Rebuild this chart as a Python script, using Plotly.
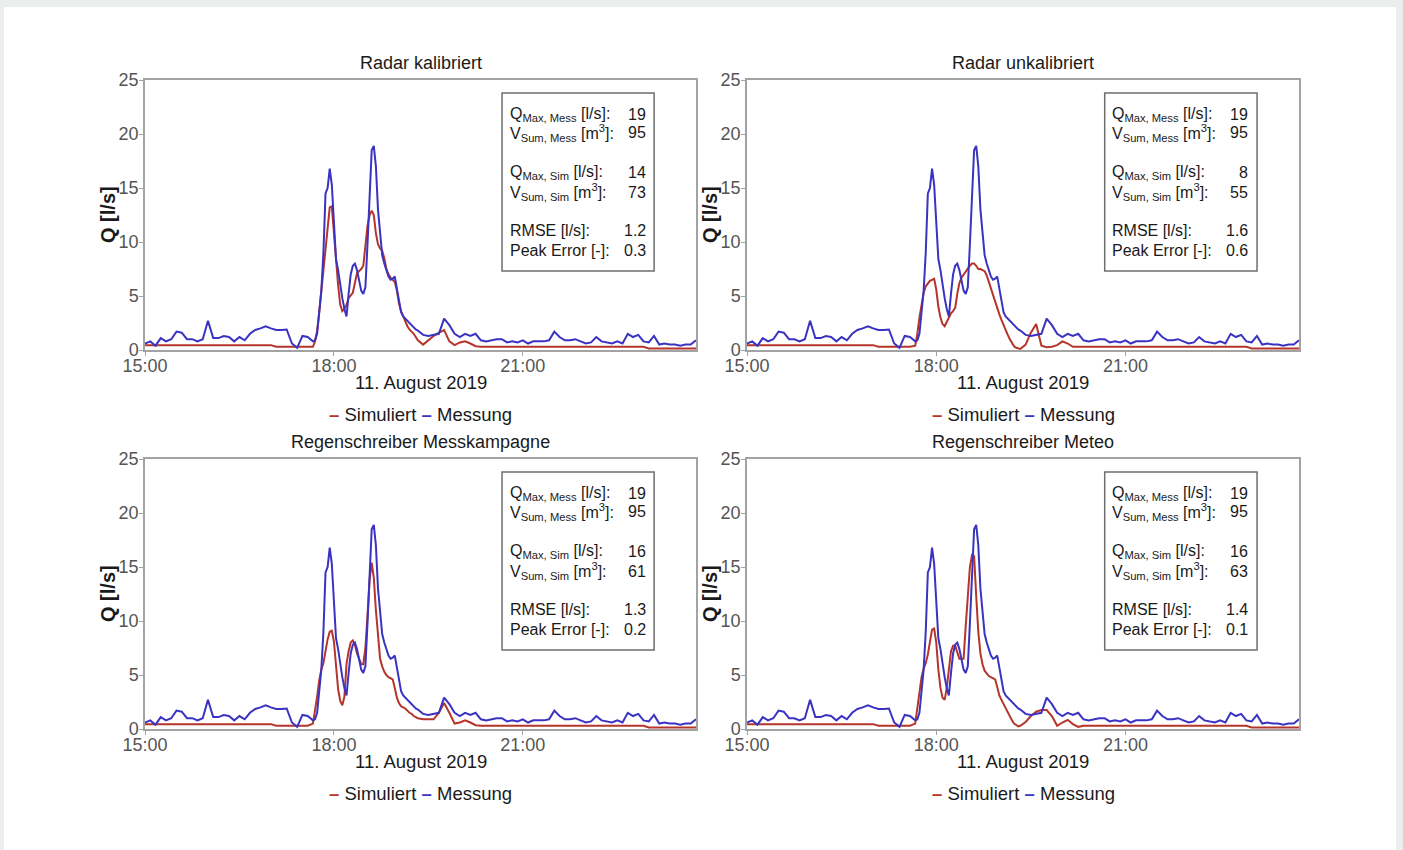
import pandas as pd
import plotly.graph_objects as go

# ---------------- data ----------------
panel_titles = ["Radar kalibriert", "Radar unkalibriert",
                "Regenschreiber Messkampagne", "Regenschreiber Meteo"]

# time axis: 5-min steps before/after the event, 2-min steps during the event
time_a = pd.date_range("2019-08-11 15:00", "2019-08-11 17:35", freq="5min")
time_b = pd.date_range("2019-08-11 17:40", "2019-08-11 19:20", freq="2min")
time_c = pd.date_range("2019-08-11 19:25", "2019-08-11 23:45", freq="5min")
times = list(time_a) + list(time_b) + list(time_c)

messung_a = [0.6, 0.8, 0.4, 1.1, 0.8, 1.0, 1.7, 1.6, 1.0, 1.0, 0.8, 1.0, 2.7, 1.1, 1.1, 1.3,
             1.2, 0.8, 1.2, 0.9, 1.5, 1.85, 2.0, 2.2, 2.0, 1.85, 1.85, 1.9, 0.6, 0.2, 1.3, 1.2]
messung_b = [0.8, 0.9, 1.5, 3.7, 5.5, 9.0, 14.5, 15.0, 16.8, 15.3, 11.2, 8.4, 7.4, 6.0, 4.8,
             3.8, 3.1, 5.2, 7.0, 7.8, 8.0, 7.4, 6.3, 5.5, 5.2, 5.8, 9.8, 14.5, 18.5, 18.9, 17.0,
             13.0, 10.5, 8.8, 8.0, 7.3, 6.8, 6.5, 6.6, 6.8, 5.7, 4.3, 3.5, 3.1, 2.9, 2.7, 2.5,
             2.3, 2.1, 1.9, 1.8]
messung_c = [1.4, 1.3, 1.4, 1.5, 2.9, 2.3, 1.5, 1.2, 1.5, 1.3, 1.5, 0.9, 0.8, 0.9, 1.0, 1.0,
             0.7, 0.8, 0.7, 0.9, 0.6, 0.8, 0.8, 0.8, 0.9, 1.7, 1.2, 0.9, 0.9, 1.0, 0.8, 0.6,
             0.7, 1.2, 0.8, 0.7, 0.6, 0.8, 0.6, 1.5, 1.2, 1.4, 0.8, 0.7, 1.3, 0.5, 0.6, 0.5,
             0.5, 0.4, 0.5, 0.5, 0.9]
messung = messung_a + messung_b + messung_c

sim_before = [0.45, 0.45, 0.45, 0.45, 0.45, 0.45, 0.45, 0.45, 0.45, 0.45, 0.45, 0.45, 0.45,
              0.45, 0.45, 0.45, 0.45, 0.45, 0.45, 0.45, 0.45, 0.45, 0.45, 0.45, 0.45,
              0.3, 0.3, 0.3, 0.3, 0.3, 0.3, 0.3]
sim_after = [0.3, 0.3, 0.3, 0.3, 0.3, 0.3, 0.3, 0.3, 0.3, 0.3, 0.3, 0.3, 0.3, 0.3, 0.3, 0.3,
             0.3, 0.3, 0.3, 0.3, 0.3, 0.3, 0.3, 0.3, 0.3, 0.3, 0.3, 0.3, 0.3, 0.3, 0.3, 0.3,
             0.15, 0.15, 0.15, 0.15, 0.15, 0.15, 0.15, 0.15, 0.15, 0.15]

sim1_event = [0.3, 0.8, 1.8, 3.5, 5.5, 7.8, 9.8, 11.8, 13.2, 13.3, 10.8, 8.2, 6.0, 4.2, 3.6,
              3.8, 4.2, 4.8, 5.1, 5.3, 6.2, 7.1, 7.3, 7.5, 7.8, 9.5, 11.5, 12.5, 12.9, 12.5,
              10.8, 9.8, 9.4, 9.2, 8.5, 7.5, 7.0, 6.7, 6.5, 6.3, 5.5, 4.3, 3.6, 3.1, 2.6, 2.2,
              1.9, 1.7, 1.5, 1.2, 0.9]
sim1_late = [0.5, 0.9, 1.3, 1.6, 1.85, 0.8, 0.45, 0.7, 0.8, 0.6, 0.35]

sim2_event = [0.4, 1.5, 3.0, 4.4, 5.3, 5.9, 6.2, 6.4, 6.5, 6.6, 5.6, 4.0, 3.0, 2.4, 2.2, 2.6,
              3.1, 3.4, 3.6, 3.9, 5.2, 6.2, 6.7, 7.0, 7.3, 7.6, 7.8, 8.0, 8.0, 7.8, 7.5, 7.5,
              7.4, 7.3, 6.9, 6.3, 5.7, 5.0, 4.3, 3.7, 3.3, 2.8, 2.3, 1.8, 1.4, 1.0, 0.6, 0.35,
              0.2, 0.15, 0.1]
sim2_late = [0.5, 1.6, 2.4, 0.4, 0.25, 0.3, 0.45, 0.8, 0.6, 0.3, 0.3]

sim3_event = [0.5, 1.6, 3.0, 4.5, 5.5, 6.1, 7.2, 8.3, 9.0, 9.1, 8.1, 5.8, 3.7, 2.6, 2.2, 3.0,
              6.0, 7.2, 8.0, 8.2, 7.8, 7.0, 6.4, 6.0, 6.0, 7.5, 10.5, 13.8, 15.4, 14.0, 11.0,
              8.3, 6.5, 5.8, 5.3, 5.0, 4.8, 4.7, 4.6, 3.8, 2.9, 2.4, 2.1, 2.0, 1.9, 1.7, 1.5,
              1.4, 1.2, 1.1, 1.0]
sim3_late = [0.9, 0.9, 0.9, 1.5, 2.4, 1.5, 0.5, 0.6, 0.8, 0.6, 0.35]

sim4_event = [0.5, 2.0, 3.6, 4.8, 5.6, 6.1, 6.9, 8.2, 9.2, 9.3, 8.0, 5.5, 3.8, 2.9, 2.7, 3.8,
              5.8, 7.2, 7.7, 7.7, 7.1, 6.5, 6.5, 6.5, 9.5, 12.5, 15.0, 16.1, 16.0, 12.3, 9.0,
              7.0, 6.0, 5.4, 5.1, 4.9, 4.8, 4.7, 4.6, 3.9, 3.1, 2.7, 2.3, 1.9, 1.5, 1.1, 0.8,
              0.5, 0.35, 0.25, 0.3]
sim4_late = [0.65, 1.2, 1.6, 1.75, 1.75, 1.2, 0.3, 0.6, 0.85, 0.45, 0.2]

simuliert = [
    sim_before + sim1_event + sim1_late + sim_after,
    sim_before + sim2_event + sim2_late + sim_after,
    sim_before + sim3_event + sim3_late + sim_after,
    sim_before + sim4_event + sim4_late + sim_after,
]

q_max_mess = [19, 19, 19, 19]
v_sum_mess = [95, 95, 95, 95]
q_max_sim = [14, 8, 16, 16]
v_sum_sim = [73, 55, 61, 63]
rmse = [1.2, 1.6, 1.3, 1.4]
peak_error = [0.3, 0.6, 0.2, 0.1]

stat_labels = ["Q<sub>Max, Mess</sub> [l/s]:", "V<sub>Sum, Mess</sub> [m<sup>3</sup>]:",
               "Q<sub>Max, Sim</sub> [l/s]:", "V<sub>Sum, Sim</sub> [m<sup>3</sup>]:",
               "RMSE [l/s]:", "Peak Error [-]:"]

x_ticks = ["2019-08-11 15:00", "2019-08-11 18:00", "2019-08-11 21:00"]
x_range = ["2019-08-11 15:00", "2019-08-11 23:45"]
y_ticks = [0, 5, 10, 15, 20, 25]

# ---------------- style ----------------
W, H = 1403, 850
RED = "#b5352a"
BLUE = "#3a33c2"
FONT = "Liberation Sans, Arial, sans-serif"
FRAME = "#a3a3a3"
TXT = "#1a1a1a"

# plot-area pixel boxes (left, right, top, bottom)
boxes = [(145, 696, 80, 350), (747, 1299, 80, 350),
         (145, 696, 459, 729), (747, 1299, 459, 729)]

fig = go.Figure()
annotations = []
shapes = [dict(type="rect", xref="paper", yref="paper", x0=4 / W, x1=1396 / W,
               y0=0, y1=1 - 7 / H, fillcolor="white", line_width=0, layer="below")]

for k in range(4):
    l, r, t, b = boxes[k]
    xa = "x" if k == 0 else f"x{k + 1}"
    ya = "y" if k == 0 else f"y{k + 1}"
    xkey = "xaxis" if k == 0 else f"xaxis{k + 1}"
    ykey = "yaxis" if k == 0 else f"yaxis{k + 1}"

    fig.add_trace(go.Scatter(x=times, y=simuliert[k], mode="lines", name="Simuliert",
                             line=dict(color=RED, width=2), xaxis=xa, yaxis=ya,
                             showlegend=False))
    fig.add_trace(go.Scatter(x=times, y=messung, mode="lines", name="Messung",
                             line=dict(color=BLUE, width=2), xaxis=xa, yaxis=ya,
                             showlegend=False))

    fig.update_layout(**{
        xkey: dict(domain=[l / W, r / W], anchor=ya, type="date", range=x_range,
                   tickmode="array", tickvals=x_ticks, tickformat="%H:%M",
                   showline=True, mirror=True, linecolor=FRAME, linewidth=1.5,
                   ticks="outside", ticklen=4, tickcolor=FRAME, showgrid=False,
                   zeroline=False, automargin=False, ticklabelstandoff=-5,
                   tickfont=dict(size=18, color="#555", family=FONT)),
        ykey: dict(domain=[1 - b / H, 1 - t / H], anchor=xa, range=[0, 25],
                   tickmode="array", tickvals=y_ticks,
                   showline=True, mirror=True, linecolor=FRAME, linewidth=1.5,
                   ticks="outside", ticklen=4, tickcolor=FRAME, showgrid=False,
                   zeroline=False, automargin=False, ticklabelstandoff=-3,
                   tickfont=dict(size=18, color="#555", family=FONT)),
    })

    cx = (l + r) / 2 / W
    # title
    annotations.append(dict(text=panel_titles[k], xref="paper", yref="paper", x=cx,
                            y=1 - (t - 17) / H, xanchor="center", yanchor="middle",
                            showarrow=False, font=dict(size=18, color=TXT, family=FONT)))
    # y title
    annotations.append(dict(text="<b>Q [l/s]</b>", xref="paper", yref="paper",
                            x=(l - 37) / W, y=1 - (t + b) / 2 / H,
                            xanchor="center", yanchor="middle",
                            textangle=-90, showarrow=False,
                            font=dict(size=20, color=TXT, family=FONT)))
    # x title
    annotations.append(dict(text="11. August 2019", xref="paper", yref="paper", x=cx,
                            y=1 - (b + 32) / H, xanchor="center", yanchor="middle",
                            showarrow=False, font=dict(size=18.5, color=TXT, family=FONT)))
    # legend
    annotations.append(dict(
        text=f"<span style='color:{RED}'><b>–</b></span> Simuliert "
             f"<span style='color:{BLUE}'><b>–</b></span> Messung",
        xref="paper", yref="paper", x=cx, y=1 - (b + 64) / H,
        xanchor="center", yanchor="middle", showarrow=False,
        font=dict(size=18.5, color=TXT, family=FONT)))

    # stats box
    shapes.append(dict(type="rect", xref=f"{xa} domain", yref=f"{ya} domain",
                       x0=0.648, x1=0.924, y0=0.293, y1=0.952,
                       line=dict(color="#6e6e6e", width=1.5), fillcolor="white"))
    values = [q_max_mess[k], v_sum_mess[k], q_max_sim[k], v_sum_sim[k],
              f"{rmse[k]:.1f}", f"{peak_error[k]:.1f}"]
    line_y = [0.874, 0.804, 0.659, 0.585, 0.441, 0.370]
    for lab, val, yy in zip(stat_labels, values, line_y):
        annotations.append(dict(text=lab, xref=f"{xa} domain", yref=f"{ya} domain",
                                x=0.658, y=yy, xanchor="left", yanchor="middle",
                                showarrow=False,
                                font=dict(size=16, color=TXT, family=FONT)))
        annotations.append(dict(text=str(val), xref=f"{xa} domain", yref=f"{ya} domain",
                                x=0.912, y=yy, xanchor="right", yanchor="middle",
                                showarrow=False,
                                font=dict(size=16, color=TXT, family=FONT)))

fig.update_layout(template="none", width=W, height=H,
                  margin=dict(l=0, r=0, t=0, b=0, pad=0, autoexpand=False),
                  paper_bgcolor="#eceeed", plot_bgcolor="white",
                  font=dict(family=FONT), annotations=annotations, shapes=shapes,
                  showlegend=False)

fig.write_html("out.html", config={"displayModeBar": False},
               post_script="document.body.style.margin='0px';")
